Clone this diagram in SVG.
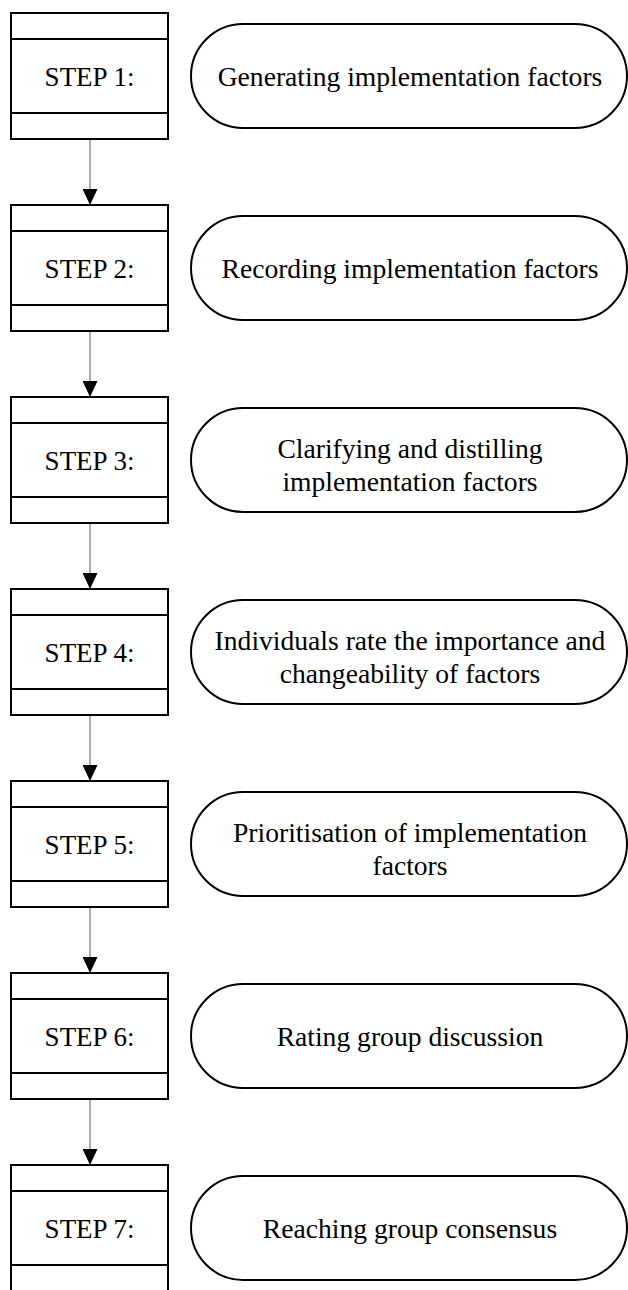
<svg xmlns="http://www.w3.org/2000/svg" width="628" height="1290" viewBox="0 0 628 1290" font-family="Liberation Serif, serif" font-size="27">
<style>
.box{fill:#fff;stroke:#000;stroke-width:2}
.sep{stroke:#000;stroke-width:2}
.pill{fill:#fff;stroke:#000;stroke-width:2}
.t{fill:#000;text-anchor:middle}
.conn{stroke:#808080;stroke-width:1.3;fill:none}
</style>
<defs>
<marker id="ah" markerWidth="16" markerHeight="15" refX="16" refY="7.5" orient="auto" markerUnits="userSpaceOnUse">
<path d="M0,0 L16,7.5 L0,15 Z" fill="#000"/>
</marker>
</defs>
<rect width="628" height="1290" fill="#fff"/>
<g id="connectors">
<line class="conn" x1="90" y1="140" x2="90" y2="205" marker-end="url(#ah)"/>
<line class="conn" x1="90" y1="332" x2="90" y2="397" marker-end="url(#ah)"/>
<line class="conn" x1="90" y1="524" x2="90" y2="589" marker-end="url(#ah)"/>
<line class="conn" x1="90" y1="716" x2="90" y2="781" marker-end="url(#ah)"/>
<line class="conn" x1="90" y1="908" x2="90" y2="973" marker-end="url(#ah)"/>
<line class="conn" x1="90" y1="1100" x2="90" y2="1165" marker-end="url(#ah)"/>
</g>
<g id="step1">
<rect class="box" x="11" y="13" width="157" height="126"/>
<line class="sep" x1="11" y1="39" x2="168" y2="39"/><line class="sep" x1="11" y1="113" x2="168" y2="113"/>
<text class="t" x="89.5" y="86" font-family="Liberation Serif, serif" font-size="27">STEP 1:</text>
</g>
<g id="task1">
<rect class="pill" x="191" y="24" width="436" height="104" rx="52"/>
<text class="t" x="410" y="86" font-family="Liberation Serif, serif" font-size="27.6">Generating implementation factors</text>
</g>
<g id="step2">
<rect class="box" x="11" y="205" width="157" height="126"/>
<line class="sep" x1="11" y1="231" x2="168" y2="231"/><line class="sep" x1="11" y1="305" x2="168" y2="305"/>
<text class="t" x="89.5" y="278" font-family="Liberation Serif, serif" font-size="27">STEP 2:</text>
</g>
<g id="task2">
<rect class="pill" x="191" y="216" width="436" height="104" rx="52"/>
<text class="t" x="410" y="278" font-family="Liberation Serif, serif" font-size="27.6">Recording implementation factors</text>
</g>
<g id="step3">
<rect class="box" x="11" y="397" width="157" height="126"/>
<line class="sep" x1="11" y1="423" x2="168" y2="423"/><line class="sep" x1="11" y1="497" x2="168" y2="497"/>
<text class="t" x="89.5" y="470" font-family="Liberation Serif, serif" font-size="27">STEP 3:</text>
</g>
<g id="task3">
<rect class="pill" x="191" y="408" width="436" height="104" rx="52"/>
<text class="t" x="410" y="458" font-family="Liberation Serif, serif" font-size="27.6">Clarifying and distilling</text>
<text class="t" x="410" y="491" font-family="Liberation Serif, serif" font-size="27.6">implementation factors</text>
</g>
<g id="step4">
<rect class="box" x="11" y="589" width="157" height="126"/>
<line class="sep" x1="11" y1="615" x2="168" y2="615"/><line class="sep" x1="11" y1="689" x2="168" y2="689"/>
<text class="t" x="89.5" y="662" font-family="Liberation Serif, serif" font-size="27">STEP 4:</text>
</g>
<g id="task4">
<rect class="pill" x="191" y="600" width="436" height="104" rx="52"/>
<text class="t" x="410" y="650" font-family="Liberation Serif, serif" font-size="27.6">Individuals rate the importance and</text>
<text class="t" x="410" y="683" font-family="Liberation Serif, serif" font-size="27.6">changeability of factors</text>
</g>
<g id="step5">
<rect class="box" x="11" y="781" width="157" height="126"/>
<line class="sep" x1="11" y1="807" x2="168" y2="807"/><line class="sep" x1="11" y1="881" x2="168" y2="881"/>
<text class="t" x="89.5" y="854" font-family="Liberation Serif, serif" font-size="27">STEP 5:</text>
</g>
<g id="task5">
<rect class="pill" x="191" y="792" width="436" height="104" rx="52"/>
<text class="t" x="410" y="842" font-family="Liberation Serif, serif" font-size="27.6">Prioritisation of implementation</text>
<text class="t" x="410" y="875" font-family="Liberation Serif, serif" font-size="27.6">factors</text>
</g>
<g id="step6">
<rect class="box" x="11" y="973" width="157" height="126"/>
<line class="sep" x1="11" y1="999" x2="168" y2="999"/><line class="sep" x1="11" y1="1073" x2="168" y2="1073"/>
<text class="t" x="89.5" y="1046" font-family="Liberation Serif, serif" font-size="27">STEP 6:</text>
</g>
<g id="task6">
<rect class="pill" x="191" y="984" width="436" height="104" rx="52"/>
<text class="t" x="410" y="1046" font-family="Liberation Serif, serif" font-size="27.6">Rating group discussion</text>
</g>
<g id="step7">
<rect class="box" x="11" y="1165" width="157" height="126"/>
<line class="sep" x1="11" y1="1191" x2="168" y2="1191"/><line class="sep" x1="11" y1="1265" x2="168" y2="1265"/>
<text class="t" x="89.5" y="1238" font-family="Liberation Serif, serif" font-size="27">STEP 7:</text>
</g>
<g id="task7">
<rect class="pill" x="191" y="1176" width="436" height="104" rx="52"/>
<text class="t" x="410" y="1238" font-family="Liberation Serif, serif" font-size="27.6">Reaching group consensus</text>
</g>
</svg>
